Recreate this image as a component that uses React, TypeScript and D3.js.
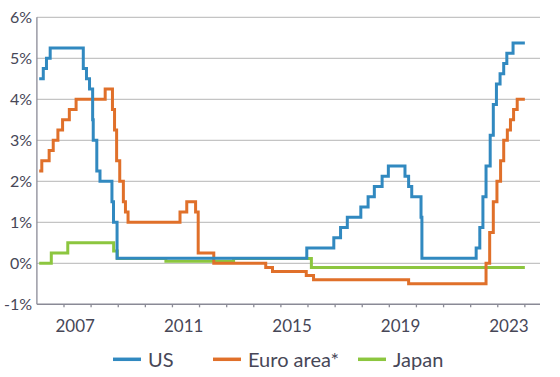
import React from "react";
import * as d3 from "d3";

const US: [string, number][] = [
  ["2006-02-01", 4.5], ["2006-03-28", 4.75], ["2006-05-10", 5.0], ["2006-06-29", 5.25],
  ["2007-09-18", 4.75], ["2007-10-31", 4.5], ["2007-12-11", 4.25], ["2008-01-22", 3.5],
  ["2008-01-30", 3.0], ["2008-03-18", 2.25], ["2008-04-30", 2.0], ["2008-10-08", 1.5],
  ["2008-10-29", 1.0], ["2008-12-16", 0.125], ["2015-12-16", 0.375], ["2016-12-14", 0.625],
  ["2017-03-15", 0.875], ["2017-06-14", 1.125], ["2017-12-13", 1.375], ["2018-03-21", 1.625],
  ["2018-06-13", 1.875], ["2018-09-26", 2.125], ["2018-12-19", 2.375], ["2019-07-31", 2.125],
  ["2019-09-18", 1.875], ["2019-10-30", 1.625], ["2020-03-03", 1.125], ["2020-03-15", 0.125],
  ["2022-03-16", 0.375], ["2022-05-04", 0.875], ["2022-06-15", 1.625], ["2022-07-27", 2.375],
  ["2022-09-21", 3.125], ["2022-11-02", 3.875], ["2022-12-14", 4.375], ["2023-02-01", 4.625],
  ["2023-03-22", 4.875], ["2023-05-03", 5.125], ["2023-07-26", 5.375], ["2024-01-01", 5.375],
];

const EURO: [string, number][] = [
  ["2006-02-01", 2.25], ["2006-03-08", 2.5], ["2006-06-15", 2.75], ["2006-08-09", 3.0],
  ["2006-10-11", 3.25], ["2006-12-13", 3.5], ["2007-03-14", 3.75], ["2007-06-13", 4.0],
  ["2008-07-09", 4.25], ["2008-10-15", 3.75], ["2008-11-12", 3.25], ["2008-12-10", 2.5],
  ["2009-01-21", 2.0], ["2009-03-11", 1.5], ["2009-04-08", 1.25], ["2009-05-13", 1.0],
  ["2011-04-13", 1.25], ["2011-07-13", 1.5], ["2011-11-09", 1.25], ["2011-12-14", 0.25],
  ["2012-07-11", 0.0], ["2014-06-11", -0.1], ["2014-09-10", -0.2], ["2015-12-09", -0.3],
  ["2016-03-16", -0.4], ["2019-09-18", -0.5], ["2022-07-27", 0.0], ["2022-09-14", 0.75],
  ["2022-11-02", 1.5], ["2022-12-21", 2.0], ["2023-02-08", 2.5], ["2023-03-22", 3.0],
  ["2023-05-10", 3.25], ["2023-06-21", 3.5], ["2023-08-02", 3.75], ["2023-09-20", 4.0],
  ["2024-01-01", 4.0],
];

const JAPAN: [string, number][] = [
  ["2006-02-01", 0.0], ["2006-07-14", 0.25], ["2007-02-21", 0.5], ["2008-10-31", 0.3],
  ["2008-12-19", 0.12], ["2010-10-05", 0.05], ["2013-04-04", 0.12], ["2016-02-16", -0.1],
  ["2024-01-01", -0.1],
];

const Y_TICKS = [-1, 0, 1, 2, 3, 4, 5, 6];
const X_LABEL_YEARS = [2007, 2011, 2015, 2019, 2023];
const TICK_YEARS = d3.range(2007, 2025);

const SERIES = [
  { name: "Japan", data: JAPAN, color: "#8cc63f" },
  { name: "Euro area*", data: EURO, color: "#e0702a" },
  { name: "US", data: US, color: "#3189c0" },
];
const LEGEND = [
  { name: "US", color: "#3189c0", x: 113 },
  { name: "Euro area*", color: "#e0702a", x: 213 },
  { name: "Japan", color: "#8cc63f", x: 358 },
];

const parse = d3.timeParse("%Y-%m-%d");
const FONT = "Lato, 'Open Sans', sans-serif";
const TEXT = "#474757";

export default function App() {
  const x = d3
    .scaleTime()
    .domain([new Date(2006, 0, 1), new Date(2024, 6, 23)])
    .range([36.9, 540]);
  const y = d3.scaleLinear().domain([-1, 6]).range([304.3, 17.3]);
  const line = d3
    .line<[string, number]>()
    .x((d) => x(parse(d[0]) as Date))
    .y((d) => y(d[1]))
    .curve(d3.curveStepAfter);

  return (
    <svg
      width={560}
      height={377}
      style={{ position: "absolute", left: 0, top: 0, background: "#fff" }}
    >
      {Y_TICKS.filter((t) => t > -1).map((t) => (
        <line key={t} x1={x.range()[0]} x2={540} y1={y(t)} y2={y(t)} stroke="#c4c4c4" strokeWidth={1.3} />
      ))}
      {Y_TICKS.map((t) => (
        <text
          key={"l" + t}
          x={32}
          y={y(t) + 5.5}
          textAnchor="end"
          fontFamily={FONT}
          fontSize={16}
          fill={TEXT}
        >
          {t + "%"}
        </text>
      ))}
      <line x1={36.9} x2={36.9} y1={y(6)} y2={y(-1)} stroke="#8a8a96" strokeWidth={1.3} />
      <line x1={36.9} x2={540} y1={y(-1)} y2={y(-1)} stroke="#8a8a96" strokeWidth={1.5} />
      {TICK_YEARS.map((yr) => {
        const xx = x(new Date(yr, 0, 1));
        return <line key={yr} x1={xx} x2={xx} y1={y(-1)} y2={y(-1) + 3} stroke="#8a8a96" strokeWidth={1.3} />;
      })}
      {X_LABEL_YEARS.map((yr) => (
        <text
          key={yr}
          x={x(new Date(yr, 5, 1))}
          y={332}
          textAnchor="middle"
          fontFamily={FONT}
          fontSize={17}
          fill={TEXT}
        >
          {yr}
        </text>
      ))}
      {SERIES.map((s) => (
        <path key={s.name} d={line(s.data) || ""} fill="none" stroke={s.color} strokeWidth={3} />
      ))}
      {LEGEND.map((l) => (
        <g key={l.name}>
          <line x1={l.x} x2={l.x + 28} y1={359.3} y2={359.3} stroke={l.color} strokeWidth={3.5} />
          <text x={l.x + 35} y={366.5} fontFamily={FONT} fontSize={20} fill={TEXT}>
            {l.name}
          </text>
        </g>
      ))}
    </svg>
  );
}
